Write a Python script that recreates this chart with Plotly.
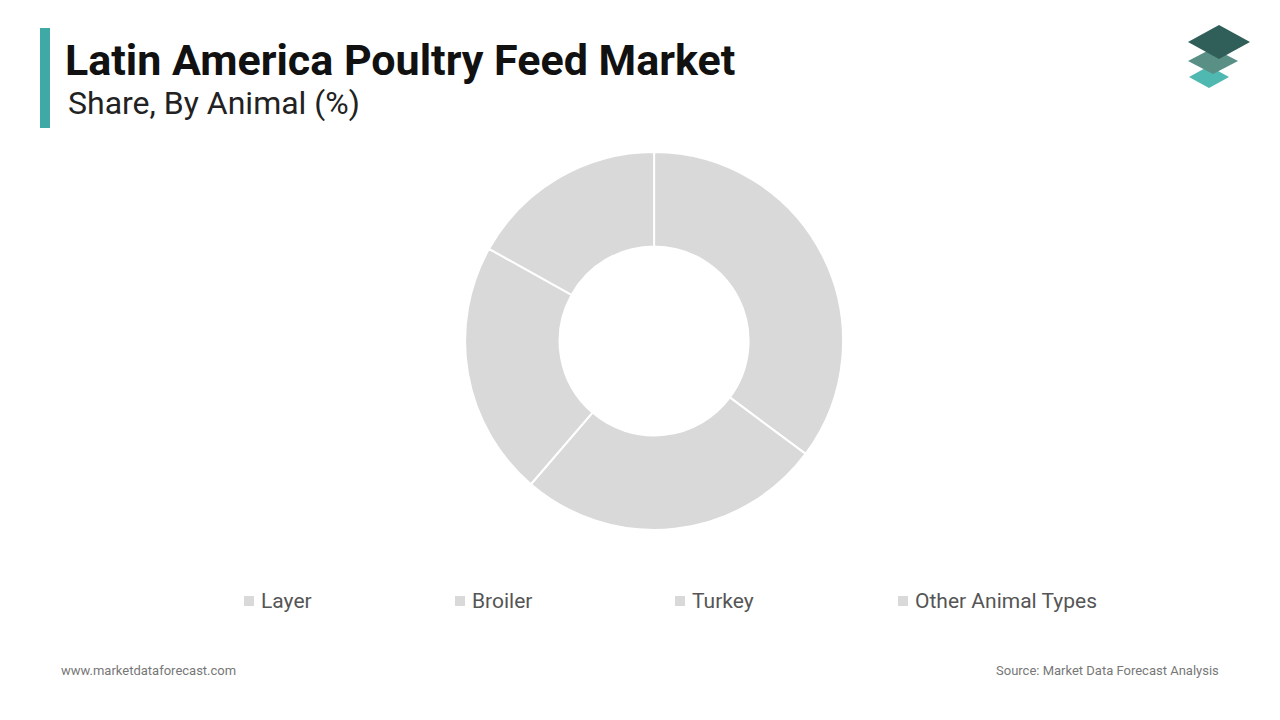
import plotly.graph_objects as go

labels = ["Layer", "Broiler", "Turkey", "Other Animal Types"]
values = [35.2, 26.1, 21.8, 16.9]
colors = ["#d9d9d9"] * 4
legend_x = [244, 455, 675, 898]

W, H = 1280, 720
def px(x): return x / W
def py(y): return 1 - y / H
def diamond(cx, cy, hw, hh):
    return (f"M {px(cx)},{py(cy-hh)} L {px(cx+hw)},{py(cy)} "
            f"L {px(cx)},{py(cy+hh)} L {px(cx-hw)},{py(cy)} Z")

fig = go.Figure(go.Pie(
    labels=labels, values=values, hole=0.5, sort=False, direction="clockwise",
    rotation=0, marker=dict(colors=colors, line=dict(color="white", width=2)),
    textinfo="none", hoverinfo="label+percent", showlegend=False,
    domain=dict(x=[0.363, 0.659], y=[0.264, 0.789]),
))

annotations = [
    dict(text="<b>Latin America Poultry Feed Market</b>", x=px(63), y=py(60),
         xanchor="left", font=dict(size=43, color="#111", family="Roboto")),
    dict(text="Share, By Animal (%)", x=px(66), y=py(103),
         xanchor="left", font=dict(size=32, color="#222", family="Roboto")),
    dict(text="www.marketdataforecast.com", x=px(59), y=py(670),
         xanchor="left", font=dict(size=13, color="#777")),
    dict(text="Source: Market Data Forecast Analysis", x=px(1221), y=py(670),
         xanchor="right", font=dict(size=13, color="#777")),
]
shapes = [
    dict(type="rect", xref="paper", yref="paper", x0=px(40), x1=px(50),
         y0=py(128), y1=py(28), fillcolor="#3fa9a6", line_width=0),
    dict(type="path", xref="paper", yref="paper", path=diamond(1209, 77, 20, 11),
         fillcolor="#4fb8b0", line_width=0),
    dict(type="path", xref="paper", yref="paper", path=diamond(1213, 61, 25, 13),
         fillcolor="#5a8f86", line_width=0),
    dict(type="path", xref="paper", yref="paper", path=diamond(1219, 42, 31, 17),
         fillcolor="#2f5f58", line_width=0),
]
for lab, c, lx in zip(labels, colors, legend_x):
    shapes.append(dict(type="rect", xref="paper", yref="paper", x0=px(lx), x1=px(lx + 10),
                       y0=py(606), y1=py(596), fillcolor=c, line_width=0))
    annotations.append(dict(text=lab, x=px(lx + 15), y=py(601), xanchor="left",
                            font=dict(size=21, color="#555")))
for a in annotations:
    a.update(xref="paper", yref="paper", yanchor="middle", showarrow=False)

fig.update_layout(
    width=W, height=H, margin=dict(l=0, r=0, t=0, b=0),
    paper_bgcolor="white", plot_bgcolor="white",
    font=dict(family="Roboto, Arial", color="#555"),
    annotations=annotations, shapes=shapes,
)

fig.write_html("out.html", config={"displayModeBar": False},
               post_script="document.body.style.margin='0';")
